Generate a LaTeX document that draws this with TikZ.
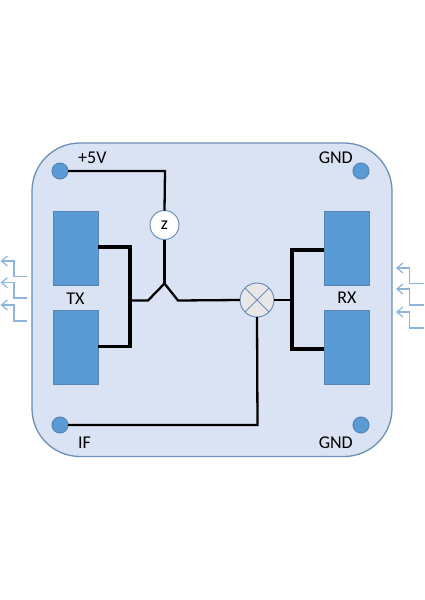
\documentclass[tikz,border=0pt]{standalone}
\usepackage{fontspec}
\setmainfont{Carlito}
\usetikzlibrary{arrows.meta,calc}
\definecolor{boardfill}{HTML}{DAE3F3}
\definecolor{edgeblue}{HTML}{6E8FB8}
\definecolor{padblue}{HTML}{5B9BD5}
\definecolor{padedge}{HTML}{5585B5}
\definecolor{sigblue}{HTML}{8DB4DE}
\definecolor{mixfill}{HTML}{E7E7E7}
\tikzset{
  x=1pt,y=-1pt,
  board/.style={draw=edgeblue,fill=boardfill,line width=1.3pt,rounded corners=48pt},
  patch/.style={draw=padedge,fill=padblue,line width=.8pt,minimum width=45pt,minimum height=74pt,inner sep=0,outer sep=0,anchor=north west},
  pad/.style={circle,draw=padedge,fill=padblue,line width=1pt,minimum size=16pt,inner sep=0,outer sep=0},
  wire/.style={draw=black,line width=2.3pt,line join=miter},
  wirethick/.style={draw=black,line width=3.2pt,line join=miter},
  lbl/.style={font=\fontsize{18}{20}\selectfont,text=black,inner sep=0},
  signal/.style={draw=sigblue,line width=1.3pt,-{Straight Barb[length=6pt,width=10pt,line width=1.2pt]}},
}
\begin{document}
\begin{tikzpicture}
\useasboundingbox (0,0) rectangle (424,600);
\fill[white] (0,0) rectangle (424,600);
\draw[board] (32,143) rectangle (392,456.5);

\node[pad] (p5v) at (60,171) {};
\node[pad] (gnda) at (361,171) {};
\node[pad] (pif) at (60,425) {};
\node[pad] (gndb) at (361,425) {};

\node[patch] (tx1) at (53,211) {};
\node[patch] (tx2) at (53,310) {};
\node[patch] (rx1) at (324,211) {};
\node[patch] (rx2) at (324,310) {};

\coordinate (apex) at (164.5,283.5);
\coordinate (jl) at (130,300.5);
\coordinate (jr) at (292,300);

\node[circle,draw=edgeblue,fill=white,line width=1pt,minimum size=29pt,inner sep=0,outer sep=0,font=\fontsize{18}{20}\selectfont] (z) at (164.5,225) {z};
\node[circle,draw=edgeblue,fill=mixfill,line width=1pt,minimum size=34pt,inner sep=0,outer sep=0] (mix) at (257,300) {};
\draw[edgeblue,line width=1pt] (mix.45) -- (mix.225) (mix.135) -- (mix.315);

\draw[wire] (p5v.east) -- (165,171) -- (z.north);
\draw[wire] (z.south) -- (apex);
\draw[wire] (jl) -- (148,300.5) -- (apex) -- (178,300.5) -- (mix.west);
\draw[wirethick] (tx1.east |- 0,247) -- (130,247) -- (130,346.5) -- (tx2.east |- 0,346.5);
\draw[wire] (mix.east) -- (jr);
\draw[wirethick] (rx1.west |- 0,250) -- (292,250) -- (292,349) -- (rx2.west |- 0,349);
\draw[wire] (pif.east) -- (257.5,425) -- (mix.south);

\node[lbl,anchor=base west] (l5v) at (78,163) {+5V};
\node[lbl,anchor=base east] (lgnda) at (353,163) {GND};
\node[lbl,anchor=base] (ltx) at (75.5,304) {TX};
\node[lbl,anchor=base] (lrx) at (347,303) {RX};
\node[lbl,anchor=base west] (lif) at (78,448) {IF};
\node[lbl,anchor=base east] (lgndb) at (353,448) {GND};

\coordinate (a1) at (27,276.7); \coordinate (a1e) at (0.5,261);
\coordinate (a2) at (27,298); \coordinate (a2e) at (0.5,282.7);
\coordinate (a3) at (27,321); \coordinate (a3e) at (0.5,305);
\draw[signal] (a1) -- (14,276.7) -- (14,261) -- (a1e);
\draw[signal] (a2) -- (14,298) -- (14,282.7) -- (a2e);
\draw[signal] (a3) -- (14,321) -- (14,305) -- (a3e);
\coordinate (b1) at (424,283.5); \coordinate (b1e) at (396,268);
\coordinate (b2) at (424,305); \coordinate (b2e) at (396,289);
\coordinate (b3) at (424,328); \coordinate (b3e) at (396,312);
\draw[signal] (b1) -- (409.5,283.5) -- (409.5,268) -- (b1e);
\draw[signal] (b2) -- (409.5,305) -- (409.5,289) -- (b2e);
\draw[signal] (b3) -- (409.5,328) -- (409.5,312) -- (b3e);
\end{tikzpicture}
\end{document}
